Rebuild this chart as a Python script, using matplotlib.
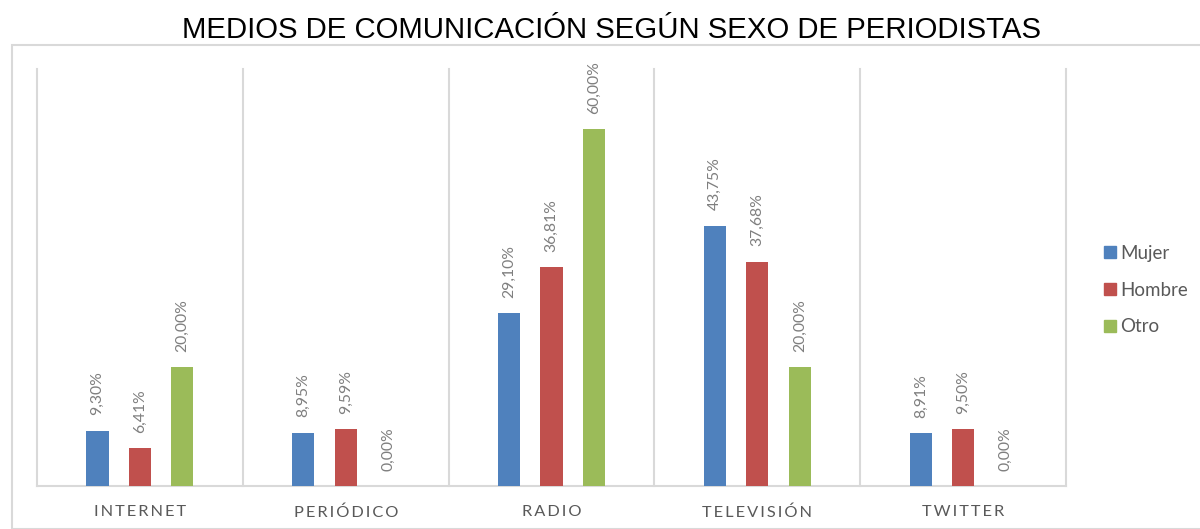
import matplotlib
matplotlib.use("Agg")
import matplotlib.pyplot as plt
from matplotlib.patches import Rectangle
from matplotlib.lines import Line2D
import numpy as np

categories = ["INTERNET", "PERIÓDICO", "RADIO", "TELEVISIÓN", "TWITTER"]
series = ["Mujer", "Hombre", "Otro"]
mujer = [9.30, 8.95, 29.10, 43.75, 8.91]
hombre = [6.41, 9.59, 36.81, 37.68, 9.50]
otro = [20.00, 0.00, 60.00, 20.00, 0.00]
colors = ["#4f81bd", "#c0504d", "#9bbb59"]

fig = plt.figure(figsize=(12, 5.29), dpi=100)
fig.patches.append(Rectangle((12 / 1200, 0), 1, 1 - 45 / 529, transform=fig.transFigure,
                             fill=False, edgecolor="#d9d9d9", linewidth=1.5))
ax = fig.add_axes([37 / 1200, 1 - 486 / 529, (1066 - 37) / 1200, (486 - 67) / 529])

x = np.arange(len(categories))
w = 0.107
step = 0.206
label_font = ["Lato", "DejaVu Sans"]
for i, (name, vals) in enumerate(zip(series, [mujer, hombre, otro])):
    pos = x + (i - 1) * step
    ax.bar(pos, vals, width=w, color=colors[i], label=name, zorder=3)
    for p, v in zip(pos, vals):
        ax.annotate(f"{v:.2f}%".replace(".", ","), (p, v), xytext=(0, 11),
                    textcoords="offset points", rotation=90, ha="center", va="bottom",
                    color="#7f7f7f", fontsize=11.3, family=label_font)

ax.set_xlim(-0.5, len(categories) - 0.5)
ax.set_ylim(0, 70.4)
for b in np.arange(-0.5, len(categories) + 0.5, 1):
    ax.plot([b, b], [0, 70], color="#d9d9d9", linewidth=1.5, zorder=1, clip_on=False)

for s in ["top", "right", "left"]:
    ax.spines[s].set_visible(False)
ax.spines["bottom"].set_color("#d9d9d9")
ax.spines["bottom"].set_linewidth(1.5)
ax.set_yticks([])
ax.set_xticks(x)
ax.set_xticklabels(["\u2009".join(c) for c in categories], family=label_font,
                   fontsize=11.8, color="#595959")
ax.tick_params(axis="x", length=0, pad=14)

handles = [Line2D([], [], marker="s", linestyle="", markersize=8, color=c) for c in colors]
fig.legend(handles, series, loc="center left", bbox_to_anchor=(1084 / 1200, 1 - 290 / 529),
           frameon=False, prop={"family": label_font, "size": 13.5}, labelcolor="#595959",
           handletextpad=0.05, labelspacing=1.05, handlelength=1.0)

fig.text(612 / 1200, 1 - 30 / 529, "MEDIOS DE COMUNICACIÓN SEGÚN SEXO DE PERIODISTAS",
         ha="center", va="center", fontsize=21.2, family="Liberation Sans", color="#000000")

fig.savefig("out.png", dpi=100)
